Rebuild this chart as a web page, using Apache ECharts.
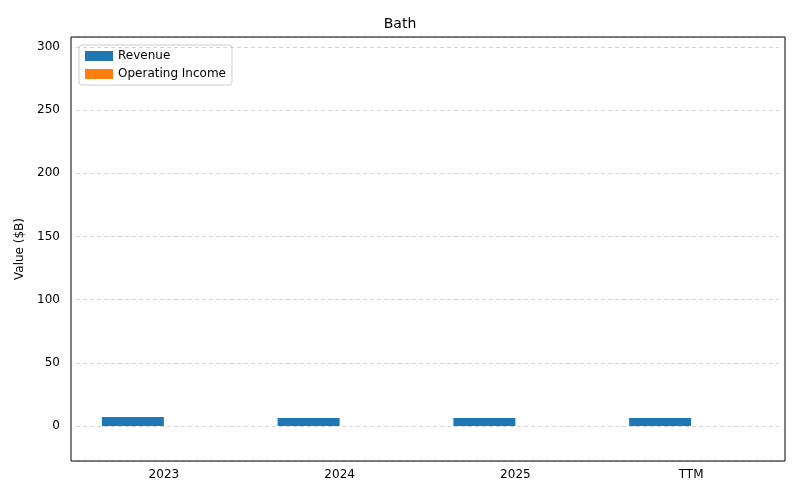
<!DOCTYPE html><html><head><meta charset="utf-8"><script src="https://cdn.jsdelivr.net/npm/echarts@6/dist/echarts.min.js"></script></head><body style="margin:0"><div id="c" style="width:800px;height:500px"></div><script>
var categories=['2023','2024','2025','TTM'];
var revenue=[7.1,6.3,6.3,6.3];
var operatingIncome=[0,0,0,0];
var yTicks=[0,50,100,150,200,250,300];
var ch=echarts.init(document.getElementById('c'));
var f={fontFamily:'DejaVu Sans',color:'#000',fontSize:12};
ch.setOption({animation:false,
title:{text:'Bath',left:'center',top:12,textStyle:{fontFamily:'DejaVu Sans',fontWeight:'normal',fontSize:14,color:'#000'}},
legend:{orient:'vertical',left:79,top:45,itemWidth:28,itemHeight:10,itemGap:6,textStyle:f,borderColor:'#ccc',borderWidth:1,borderRadius:3,padding:[5,6],
data:[{name:'Revenue',icon:'rect'},{name:'Operating Income',icon:'rect'}]},
graphic:[{type:'rect',shape:{x:71,y:37,width:714,height:424},style:{fill:null,stroke:'#000',lineWidth:1},z:10,silent:true}],
grid:{left:76,right:21,top:37,bottom:39},
xAxis:{type:'category',data:categories,axisLine:{show:false,onZero:false},axisTick:{alignWithLabel:true,length:4,lineStyle:{color:'#000'}},axisLabel:Object.assign({margin:8},f)},
yAxis:{type:'value',min:-27.7,max:307.8,name:'Value ($B)',nameLocation:'middle',nameGap:49,nameTextStyle:f,
axisLine:{show:false},axisTick:{show:false},axisLabel:Object.assign({customValues:yTicks,margin:16},f),
splitLine:{show:true,lineStyle:{color:'#d5d5d5',type:[4,3]}}},
series:[{name:'Revenue',type:'bar',data:revenue,barWidth:62,barGap:'0%',itemStyle:{color:'#1f77b4'}},
{name:'Operating Income',type:'bar',data:operatingIncome,barWidth:62,itemStyle:{color:'#ff7f0e'}}]});
</script></body></html>
